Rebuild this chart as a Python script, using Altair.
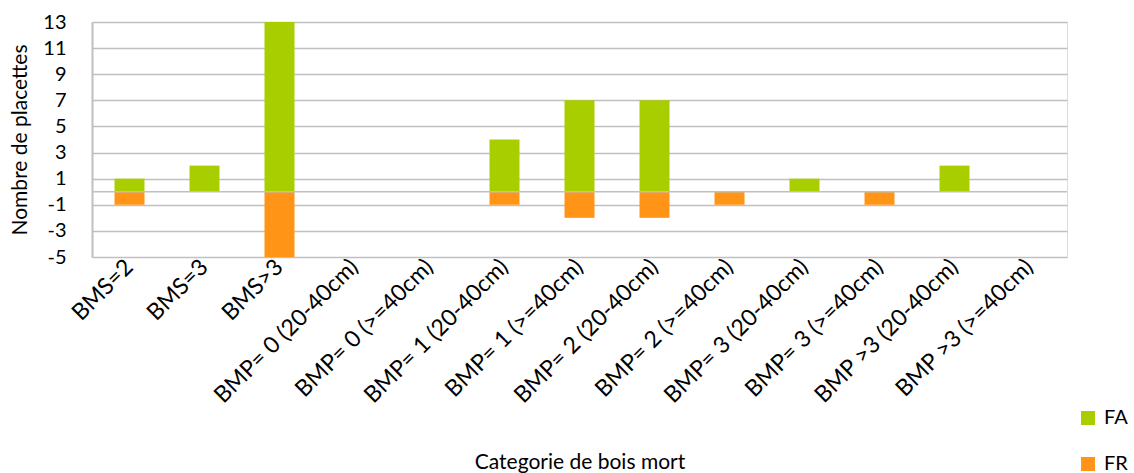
import altair as alt
import pandas as pd

categories = ["BMS=2", "BMS=3", "BMS>3", "BMP= 0 (20-40cm)", "BMP= 0 (>=40cm)",
              "BMP= 1 (20-40cm)", "BMP= 1 (>=40cm)", "BMP= 2 (20-40cm)", "BMP= 2 (>=40cm)",
              "BMP= 3 (20-40cm)", "BMP= 3 (>=40cm)", "BMP >3 (20-40cm)", "BMP >3 (>=40cm)"]
fa_values = [1, 2, 13, 0, 0, 4, 7, 7, 0, 1, 0, 2, 0]
fr_values = [-1, 0, -5, 0, 0, -1, -2, -2, -1, 0, -1, 0, 0]
series = ["FA", "FR"]
colors = ["#A9CE00", "#FF9416"]
y_ticks = [-5, -3, -1, 1, 3, 5, 7, 9, 11, 13]

rows = []
for c, a, r in zip(categories, fa_values, fr_values):
    rows.append({"cat": c, "serie": "FA", "val": a})
    rows.append({"cat": c, "serie": "FR", "val": r})
df = pd.DataFrame(rows)

FONT = "Lato"

x_enc = alt.X("cat:N", sort=categories, title="Categorie de bois mort",
              scale=alt.Scale(paddingInner=0.6, paddingOuter=0.3),
              axis=alt.Axis(labelAngle=-45, labelAlign="right", labelBaseline="middle",
                            labelFontSize=23, labelFont=FONT, labelColor="#000000",
                            labelPadding=6, labelOffset=0, ticks=False, domain=False,
                            labelLimit=400, labelOverlap=False,
                            titleFont=FONT, titleFontSize=21, titleFontWeight="normal",
                            titleColor="#000000", titlePadding=44))

y_enc = alt.Y("val:Q", title="Nombre de placettes",
              scale=alt.Scale(domain=[-5, 13], nice=False, zero=False),
              axis=alt.Axis(values=y_ticks, tickCount=30, labelExpr="'' + datum.value",
                            labelOverlap=False,
                            labelFontSize=20, labelFont=FONT, labelColor="#000000",
                            ticks=False, domainColor="#BFBFBF", domainWidth=2,
                            gridColor="#C0C0C0", gridWidth=1.5, labelPadding=26,
                            titleFont=FONT, titleFontSize=21, titleFontWeight="normal",
                            titleColor="#000000", titlePadding=12))

bars = alt.Chart(df).mark_bar(size=30).encode(
    x=x_enc,
    y=y_enc,
    color=alt.Color("serie:N", scale=alt.Scale(domain=series, range=colors),
                    legend=alt.Legend(title=None, orient="none", legendX=986, legendY=386,
                                      symbolType="square", symbolSize=196, symbolStrokeWidth=0,
                                      labelFont=FONT, labelFontSize=20, labelColor="#000000",
                                      rowPadding=26, labelOffset=6)),
)

zero = alt.Chart(pd.DataFrame({"val": [0]})).mark_rule(color="#C0C0C0", strokeWidth=1.5).encode(
    y=y_enc)

chart = alt.layer(bars, zero).properties(
    width=975, height=235,
    padding={"left": 92, "top": 22, "right": 67, "bottom": 216},
    autosize=alt.AutoSizeParams(type="none"),
).configure_view(stroke="#BFBFBF", strokeWidth=2).configure(background="white")

chart.save("out.html", embed_options={"renderer": "svg", "actions": False})
